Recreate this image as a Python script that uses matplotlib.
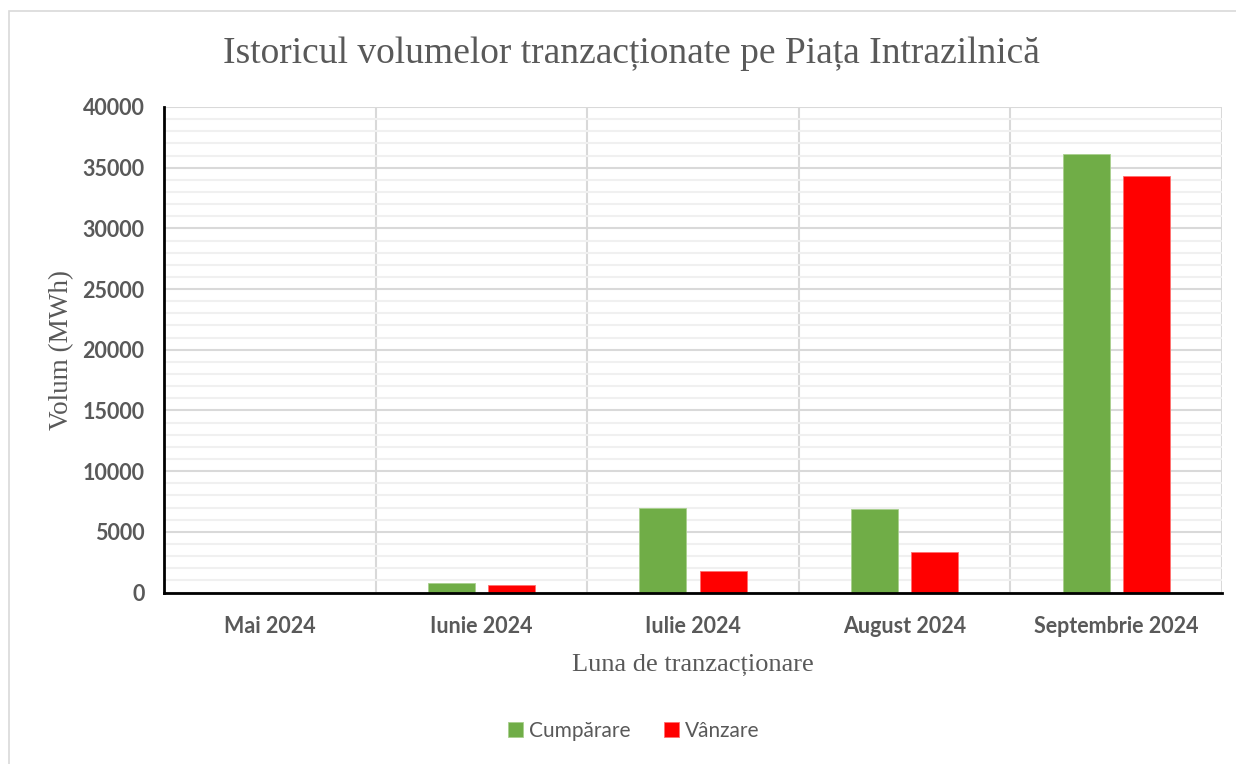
import matplotlib
matplotlib.use("Agg")
import matplotlib.pyplot as plt
import numpy as np
from matplotlib.patches import Rectangle
from matplotlib.ticker import MultipleLocator

# ── Data ──
months = ["Mai 2024", "Iunie 2024", "Iulie 2024", "August 2024", "Septembrie 2024"]
cumparare = [0, 800, 6940, 6850, 36150]
vanzare = [0, 600, 1750, 3360, 34300]

C = {"buy": "#70AD47", "sell": "#FF0000", "text": "#595959",
     "major": "#d9d9d9", "minor": "#f0f0f0"}

fig = plt.figure(figsize=(12.36, 7.64), dpi=100, facecolor="white")
fig.patches.append(Rectangle((9 / 1236, -0.01), 1.0, 1 - 11 / 764 + 0.01,
                             transform=fig.transFigure, fill=False,
                             edgecolor="#d9d9d9", linewidth=1.2))

ax = fig.add_axes([164 / 1236, 1 - 592.5 / 764, (1222 - 164) / 1236, (592.5 - 107) / 764])

x = np.arange(len(months))
w, off = 0.222, 0.142
ax.bar(x - off, cumparare, w, color=C["buy"], edgecolor="#a9d08e", linewidth=0.6,
       label="Cumpărare", zorder=3)
ax.bar(x + off, vanzare, w, color=C["sell"], edgecolor="#ff7070", linewidth=0.6,
       label="Vânzare", zorder=3)

ax.set_xlim(-0.5, len(months) - 0.5)
ax.set_ylim(0, 40000)
ax.yaxis.set_major_locator(MultipleLocator(5000))
ax.yaxis.set_minor_locator(MultipleLocator(1000))
ax.grid(True, which="major", axis="y", color=C["major"], linewidth=1.5, zorder=1)
ax.grid(True, which="minor", axis="y", color=C["minor"], linewidth=1.5, zorder=0)
for b in np.arange(0.5, len(months), 1.0):
    ax.axvline(b, color=C["major"], linewidth=1.5, zorder=1)

ax.set_xticks(x)
ax.set_xticklabels(months)
ax.tick_params(axis="both", which="both", length=0)
ax.tick_params(axis="x", pad=17)
ax.tick_params(axis="y", pad=14)
for lab in ax.get_xticklabels() + ax.get_yticklabels():
    lab.set_family("Lato")
    lab.set_fontweight("bold")
    lab.set_fontsize(15.5)
    lab.set_color(C["text"])

for s in ["top", "right"]:
    ax.spines[s].set_visible(False)
for s in ["left", "bottom"]:
    ax.spines[s].set_color("black")
    ax.spines[s].set_linewidth(2)
    ax.spines[s].set_zorder(4)

ax.set_ylabel("Volum (MWh)", family="Liberation Serif", fontsize=19.5, color=C["text"], labelpad=6)
ax.set_xlabel("Luna de tranzacționare", family="Liberation Serif", fontsize=19,
              color=C["text"], labelpad=12)

fig.text(631 / 1236, 1 - 54 / 764, "Istoricul volumelor tranzacționate pe Piața Intrazilnică",
         family="Liberation Serif", fontsize=27, color=C["text"], ha="center", va="center")

leg = fig.legend(loc="center", bbox_to_anchor=(634 / 1236, 1 - 731 / 764), ncol=2,
                 frameon=False, prop={"family": "Lato", "size": 15},
                 handlelength=0.7, handleheight=0.7, handletextpad=0.3, columnspacing=1.6)
for t in leg.get_texts():
    t.set_color(C["text"])

plt.savefig("out.png", dpi=100, facecolor=fig.get_facecolor())
plt.close(fig)
